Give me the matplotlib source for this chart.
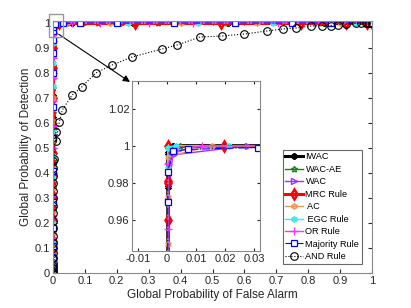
import matplotlib
matplotlib.use("Agg")
import matplotlib.pyplot as plt
from matplotlib.patches import Rectangle

plt.rcParams['font.family'] = ['Liberation Sans', 'DejaVu Sans']

V = 0.0003  # vertical branch false-alarm value

iwac_pfa = [V, V, V, V, V, V, V, V, V, V, V, V, V, V, V, V, 0.002, 0.06, 0.25, 0.55, 0.85, 1.0]
iwac_pd = [0, 0.03, 0.07, 0.12, 0.19, 0.26, 0.35, 0.44, 0.53, 0.62, 0.71, 0.8, 0.88, 0.94, 0.9776, 0.996, 1, 1, 1, 1, 1, 1]

wacae_pfa = [V, V, V, V, V, V, V, V, V, V, V, V, V, V, 0.0045, 0.045, 0.14, 0.33, 0.545, 0.843, 1.0]
wacae_pd = [0, 0.05, 0.11, 0.18, 0.27, 0.36, 0.45, 0.55, 0.64, 0.74, 0.83, 0.91, 0.96, 0.99, 1, 1, 1, 1, 1, 1, 1]

wac_pfa = [V, V, V, V, V, V, V, V, V, V, V, V, V, V, 0.002, 0.028, 0.1, 0.22, 0.58, 0.875, 1.0]
wac_pd = [0, 0.04, 0.1, 0.16, 0.23, 0.32, 0.41, 0.5, 0.6, 0.69, 0.78, 0.87, 0.93, 0.97, 0.995, 1, 1, 1, 1, 1, 1]

mrc_pfa = [V, V, V, V, V, V, V, V, V, V, V, V, V, V, V, 0.0196, 0.257, 0.527, 0.777, 0.92, 0.985, 1.0]
mrc_pd = [0, 0.06, 0.13, 0.21, 0.3, 0.39, 0.48, 0.58, 0.7, 0.82, 0.9, 0.96, 0.981, 0.98, 1, 1, 1, 1, 1, 1, 1, 1]

ac_pfa = [V, V, V, V, V, V, V, V, V, V, V, V, V, V, V, V, 0.0155, 0.043, 0.18, 0.40, 0.64, 0.9, 1.0]
ac_pd = [0, 0.04, 0.09, 0.16, 0.25, 0.34, 0.43, 0.52, 0.61, 0.7, 0.79, 0.87, 0.92, 0.947, 0.972, 0.994, 1, 1, 1, 1, 1, 1, 1]

egc_pfa = [V, V, V, V, V, V, V, V, V, V, V, V, V, V, 0.003, 0.0213, 0.235, 0.455, 0.69, 0.95, 1.0]
egc_pd = [0, 0.05, 0.12, 0.2, 0.29, 0.38, 0.47, 0.57, 0.66, 0.75, 0.84, 0.92, 0.988, 0.999, 1, 1, 1, 1, 1, 1, 1]

or_pfa = [V, V, V, V, V, V, V, V, V, V, V, V, V, V, V, 0.0036, 0.012, 0.06, 0.147, 0.30, 0.44, 0.705, 0.82, 1.0]
or_pd = [0, 0.03, 0.08, 0.14, 0.22, 0.31, 0.4, 0.5, 0.59, 0.69, 0.78, 0.86, 0.93, 0.955, 0.99, 0.997, 1, 1, 1, 1, 1, 1, 1, 1]

maj_pfa = [V, V, V, V, V, V, V, V, V, V, V, V, V, V, 0.0021, 0.0073, 0.0313, 0.085, 0.2, 0.38, 0.57, 0.75, 0.87, 1.0]
maj_pd = [0, 0.02, 0.06, 0.11, 0.18, 0.284, 0.408, 0.54, 0.664, 0.799, 0.879, 0.932, 0.9695, 0.986, 0.997, 0.998, 0.999, 1, 1, 1, 1, 1, 1, 1]

and_pfa = [V, V, V, V, V, V, V, V, V, V, V, V, V, V, V, V, V, V, V, V, V, 0.003, 0.009, 0.01, 0.02, 0.029, 0.06, 0.09, 0.134,
           0.185, 0.248, 0.342, 0.389, 0.461, 0.53, 0.6, 0.67, 0.72, 0.762, 0.81, 0.843, 0.87, 0.893, 0.92, 0.95,
           0.965, 0.98, 0.99, 1.0]
and_pd = [0, 0.005, 0.01, 0.02, 0.03, 0.04, 0.06, 0.08, 0.1, 0.12, 0.15, 0.18, 0.21, 0.24, 0.27, 0.3, 0.33, 0.36, 0.39, 0.42, 0.45, 0.456, 0.564, 0.528, 0.604, 0.652, 0.712, 0.744, 0.80,
          0.832, 0.864, 0.896, 0.912, 0.944, 0.948, 0.956, 0.968, 0.976, 0.98, 0.988, 0.99, 0.99, 0.994, 0.996, 1.0,
          1.0, 1.0, 1.0, 1.0]

series = [
    ("IWAC", iwac_pfa, iwac_pd, dict(color='k', lw=2.2, ls='-', marker=(6, 2, 0), ms=4.5, mew=1.6)),
    ("WAC-AE", wacae_pfa, wacae_pd, dict(color='#1f7a1f', lw=1.0, ls='-', marker=(5, 1, 0), ms=4.5, mfc='none', mew=1.0)),
    ("WAC", wac_pfa, wac_pd, dict(color='#9933ff', lw=1.0, ls='-', marker='>', ms=4.5, mfc='none', mew=1.0)),
    ("MRC Rule", mrc_pfa, mrc_pd, dict(color='#ff0000', lw=2.2, ls='-', marker='d', ms=5, mfc='none', mew=1.8)),
    (" AC", ac_pfa, ac_pd, dict(color='#e8955a', lw=1.0, ls='-', marker=(6, 1, 0), ms=4.5, mfc='none', mew=1.0)),
    (" EGC Rule", egc_pfa, egc_pd, dict(color='#44e8e8', lw=1.0, ls='-', marker=(6, 2, 0), ms=4.5, mew=1.2)),
    ("OR Rule", or_pfa, or_pd, dict(color='#ff33ff', lw=1.0, ls='-', marker='+', ms=5.5, mew=1.0)),
    ("Majority Rule", maj_pfa, maj_pd, dict(color='#0000ff', lw=0.8, ls='-.', marker='s', ms=4.2, mfc='white', mew=0.9)),
    ("AND Rule", and_pfa, and_pd, dict(color='k', lw=0.8, ls=':', marker='o', ms=5.5, mfc='none', mew=0.8)),
]

W, H = 411, 308
fig = plt.figure(figsize=(W / 100, H / 100), dpi=100)
ax = fig.add_axes([53 / W, 1 - 273 / H, 319 / W, 252 / H])
for name, x, y, st in series:
    ax.plot(x, y, label=name, **st)
ax.set_xlim(0, 1)
ax.set_ylim(0, 1.008)
ax.set_xticks([i / 10 for i in range(11)])
ax.set_xticklabels(['0', '0.1', '0.2', '0.3', '0.4', '0.5', '0.6', '0.7', '0.8', '0.9', '1'])
ax.set_yticks([i / 10 for i in range(11)])
ax.set_yticklabels(['0', '0.1', '0.2', '0.3', '0.4', '0.5', '0.6', '0.7', '0.8', '0.9', '1'])
ax.tick_params(direction='in', length=3, labelsize=8, colors='#262626', top=True, right=True, pad=2)
for s in ax.spines.values():
    s.set_color('#8a8a8a')
ax.set_xlabel('Global Probability of False Alarm', fontsize=8.5, color='#262626', labelpad=2)
ax.set_ylabel('Global Probability of Detection', fontsize=8.5, color='#262626', labelpad=2)

ax.add_patch(Rectangle((-0.012, 0.943), 0.044, 0.092, fill=False, ec='#999999', lw=1.0, clip_on=False, zorder=5))

leg = ax.legend(loc='lower right', fontsize=6.6, frameon=True, fancybox=False, edgecolor='#444444',
                handlelength=1.9, handletextpad=0.3, labelspacing=0.38, borderpad=0.3, borderaxespad=0,
                bbox_to_anchor=(0.969, 0.036))
leg.get_frame().set_linewidth(0.8)

ax.annotate('', xy=(130 / W, 1 - 82 / H), xycoords='figure fraction', xytext=(0.018, 0.955), textcoords='data',
            arrowprops=dict(arrowstyle='-|>', color='k', lw=0.8, mutation_scale=10, shrinkA=0, shrinkB=0))

axi = fig.add_axes([132 / W, 1 - 251 / H, 128 / W, 170 / H])
for name, x, y, st in series:
    axi.plot(x, y, **st)
axi.set_xlim(-0.012, 0.032)
axi.set_ylim(0.943, 1.035)
axi.set_xticks([-0.01, 0, 0.01, 0.02, 0.03])
axi.set_xticklabels(['-0.01', '0', '0.01', '0.02', '0.03'])
axi.set_yticks([0.96, 0.98, 1.0, 1.02])
axi.set_yticklabels(['0.96', '0.98', '1', '1.02'])
axi.tick_params(direction='in', length=2.5, labelsize=8, colors='#262626', top=True, right=True, pad=2)
for s in axi.spines.values():
    s.set_color('#8a8a8a')

fig.savefig('out.png', dpi=100)
